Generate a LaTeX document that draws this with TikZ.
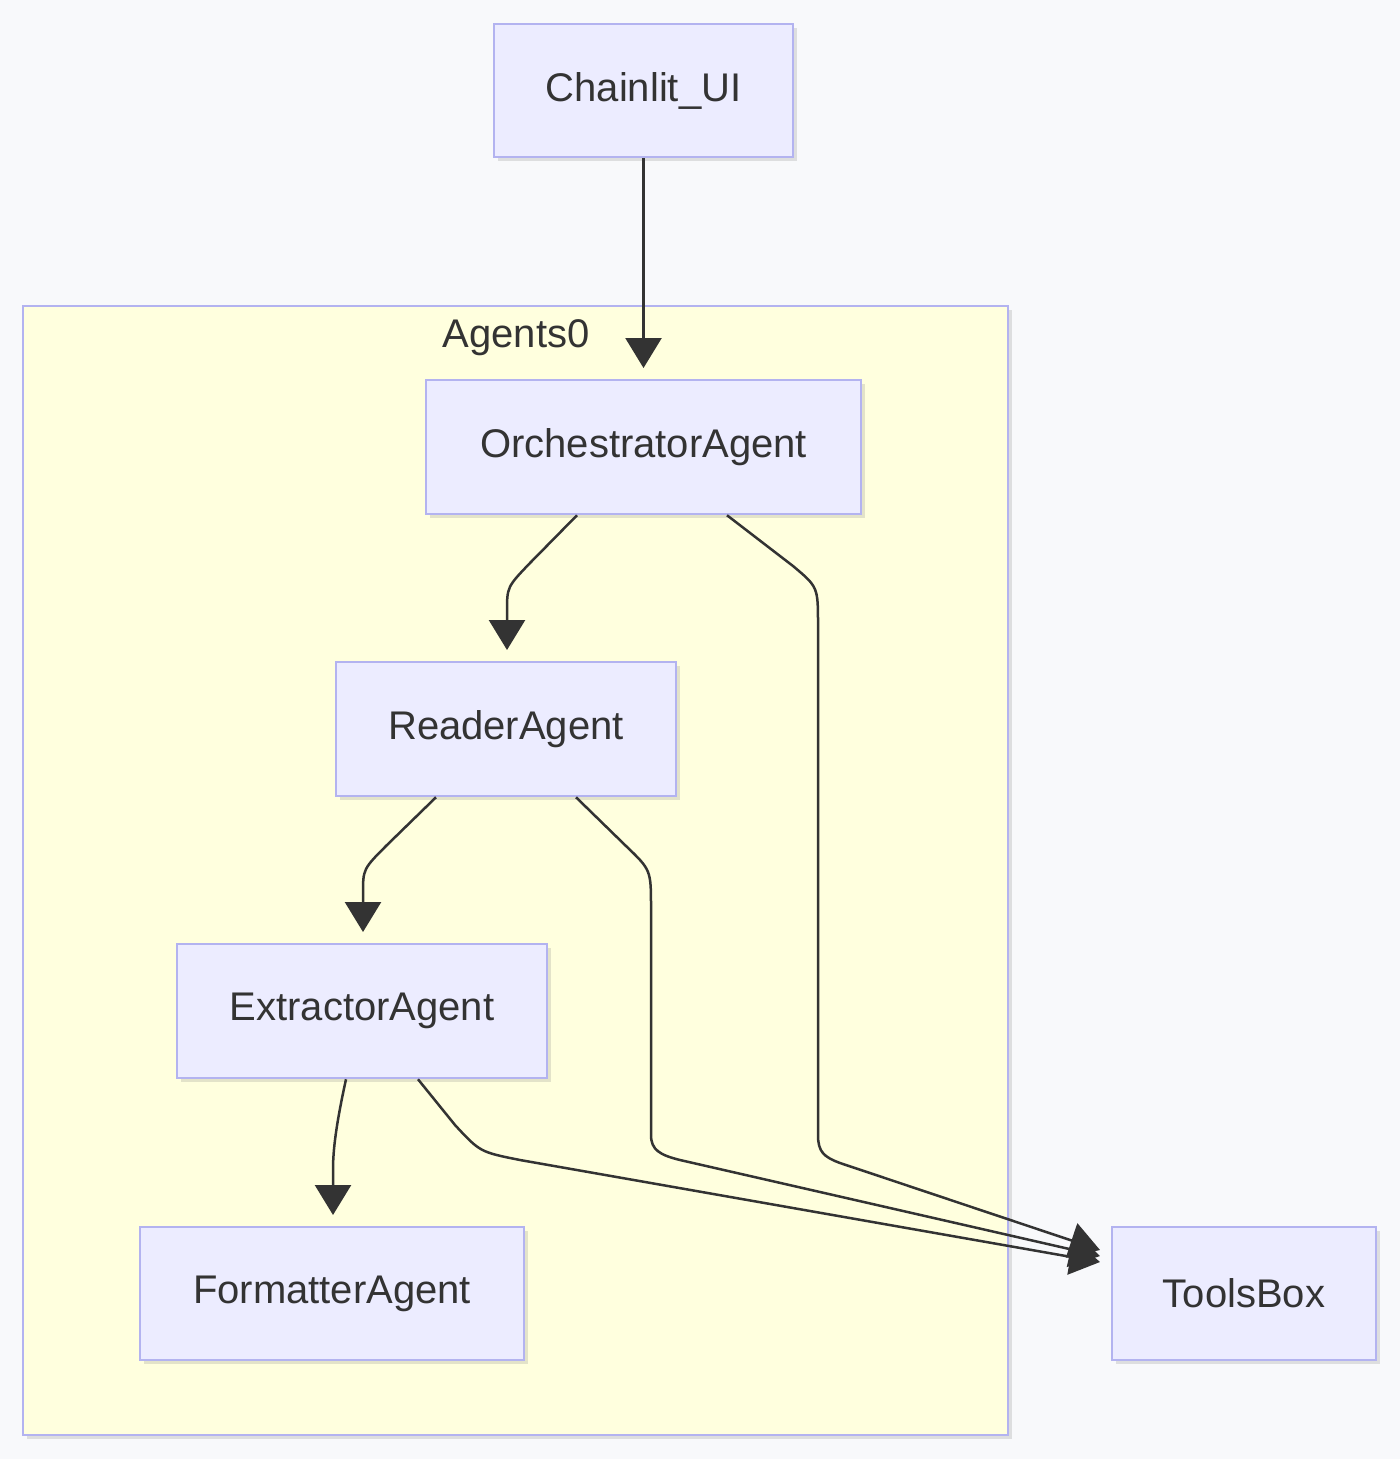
\documentclass[tikz,border=0pt]{standalone}
\usepackage{fontspec}
\setmainfont{Liberation Sans}
\usetikzlibrary{arrows.meta,shadows}
\definecolor{bgc}{HTML}{F8F9FB}
\definecolor{nfill}{HTML}{ECECFF}
\definecolor{nstroke}{HTML}{B3B3F0}
\definecolor{cfill}{HTML}{FFFFDE}
\definecolor{ink}{HTML}{333333}
\begin{document}
\begin{tikzpicture}[x=1pt,y=-1pt,
  box/.style={draw=nstroke,fill=nfill,line width=2.5pt,inner sep=0pt,
    font=\fontsize{40}{42}\selectfont,text=ink,
    drop shadow={shadow xshift=4pt,shadow yshift=-4pt,opacity=0.22}},
  edge/.style={draw=ink,line width=2.5pt,
    -{Triangle[length=30pt,width=36pt]}}]
\useasboundingbox (0,0) rectangle (1400,1459);
\fill[bgc] (0,0) rectangle (1400,1459);
\node[draw=nstroke,fill=cfill,line width=2.5pt,minimum width=985pt,minimum height=1129pt,inner sep=0pt,
  drop shadow={shadow xshift=4pt,shadow yshift=-4pt,opacity=0.22}] (cl) at (515.5,870.5) {};
\node[font=\fontsize{40}{42}\selectfont,text=ink] (cllab) at (516,338) {Agents0};
\node[box,minimum width=299pt,minimum height=133pt] (ui) at (643.5,90.5) {Chainlit\_UI};
\node[box,minimum width=435pt,minimum height=134pt] (orch) at (643.5,447) {OrchestratorAgent};
\node[box,minimum width=340pt,minimum height=134pt] (read) at (506,729) {ReaderAgent};
\node[box,minimum width=370pt,minimum height=134pt] (ext) at (362,1011) {ExtractorAgent};
\node[box,minimum width=384pt,minimum height=133pt] (fmt) at (332,1293.5) {FormatterAgent};
\node[box,minimum width=264pt,minimum height=133pt] (tools) at (1244,1293.5) {ToolsBox};
\coordinate (t1) at (1100,1250);
\coordinate (t2) at (1100,1256);
\coordinate (t3) at (1100,1262);
\draw[edge] (ui.south) -- (643.5,368);
\draw[edge] (orch.south west-|577,0) -- (530,563) .. controls (507,587) .. (507,612) -- (507,650);
\draw[edge] (orch.south west-|727,0) -- (793,566) .. controls (818,587) .. (818,625) -- (818,1135) .. controls (818,1152) and (824,1157) .. (840,1163) -- (t1);
\draw[edge] (read.south west-|436,0) -- (387,845) .. controls (363,869) .. (363,894) -- (363,932);
\draw[edge] (read.south west-|576,0) -- (626,846) .. controls (651,870) .. (651,908) -- (651,1135) .. controls (651,1150) and (660,1155) .. (680,1160) -- (t2);
\draw[edge] (ext.south west-|346,0) .. controls (336,1125) and (333,1150) .. (333,1170) -- (333,1215);
\draw[edge] (ext.south west-|418,0) -- (455,1125) .. controls (480,1152) .. (520,1160) -- (t3);
\end{tikzpicture}
\end{document}
